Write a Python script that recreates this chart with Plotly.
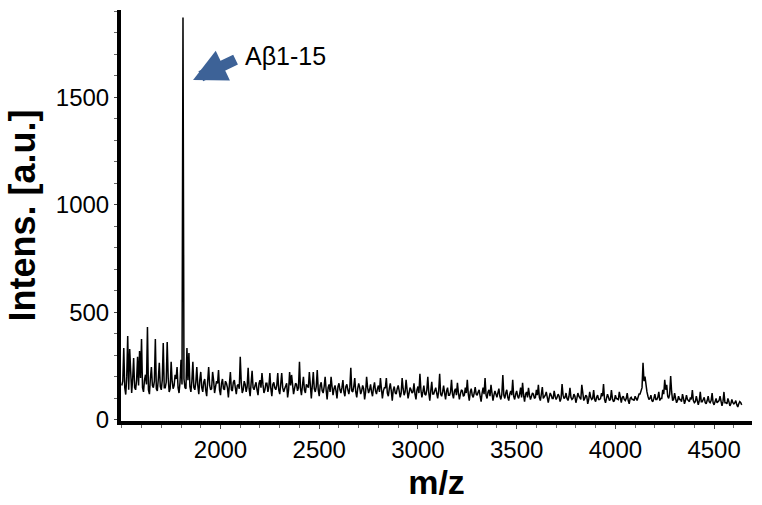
import numpy as np
import plotly.graph_objects as go

# m/z grid: readings every 5 units (peaks/troughs on the 10s, band on the 5s)
mz_start = 1500
mz_step = 5

# intensities at 1500, 1510, ... (10 values per 100 m/z)
intens_even = [
    160, 334, 118, 390, 330, 125, 288, 140, 293, 320,   # 1500
    376, 130, 210, 432, 120, 246, 150, 376, 135, 265,   # 1600
    140, 357, 150, 362, 130, 270, 145, 210, 246, 125,   # 1700
    279, 1870, 150, 334, 311, 130, 270, 140, 246, 120,  # 1800
    223, 130, 190, 110, 246, 140, 223, 125, 180, 232,   # 1900
    115, 190, 140, 170, 105, 223, 135, 185, 120, 165,   # 2000
    293, 125, 180, 130, 242, 110, 228, 140, 175, 115,   # 2100
    185, 218, 125, 170, 130, 218, 110, 175, 140, 218,   # 2200
    120, 218, 130, 165, 105, 223, 209, 120, 170, 135,   # 2300
    270, 115, 200, 125, 160, 223, 100, 223, 130, 232,   # 2400
    110, 175, 125, 200, 95, 165, 200, 115, 160, 100,    # 2500
    170, 125, 185, 110, 165, 120, 242, 130, 195, 105,   # 2600
    170, 120, 160, 95, 200, 125, 165, 110, 175, 120,    # 2700
    160, 195, 100, 150, 195, 110, 170, 90, 155, 120,    # 2800
    160, 105, 195, 115, 186, 100, 150, 125, 170, 95,    # 2900
    155, 214, 105, 160, 115, 200, 90, 177, 120, 150,    # 3000
    100, 214, 110, 160, 95, 150, 115, 186, 100, 145,    # 3100
    172, 95, 140, 110, 150, 186, 90, 145, 105, 153,     # 3200
    115, 140, 85, 150, 195, 100, 140, 163, 90, 135,     # 3300
    105, 145, 95, 209, 100, 140, 90, 135, 186, 95,      # 3400
    135, 100, 150, 172, 85, 130, 149, 95, 125, 100,     # 3500
    140, 163, 90, 153, 105, 130, 80, 125, 100, 135,     # 3600
    95, 120, 85, 167, 100, 125, 90, 149, 95, 120,       # 3700
    80, 125, 100, 163, 90, 115, 75, 130, 95, 139,       # 3800
    85, 115, 95, 125, 167, 80, 120, 90, 139, 85,        # 3900
    115, 95, 130, 80, 110, 90, 125, 75, 105, 95,        # 4000
    110, 90, 120, 139, 266, 201, 130, 95, 115, 85,      # 4100
    120, 95, 130, 100, 140, 186, 163, 100, 204, 90,     # 4200
    125, 80, 110, 95, 120, 75, 115, 90, 105, 139,       # 4300
    80, 110, 70, 130, 85, 105, 75, 110, 80, 125,        # 4400
    70, 100, 85, 110, 65, 130, 80, 100, 65, 95,         # 4500
    75, 90, 60, 85, 70,                                 # 4600
]

# intensities at 1505, 1515, ... (the dense noise band)
intens_odd = [
    180, 150, 200, 140, 175, 190, 150, 185, 160, 195,   # 1500
    150, 185, 165, 140, 195, 160, 180, 145, 190, 155,   # 1600
    185, 150, 175, 195, 145, 180, 160, 190, 150, 175,   # 1700
    165, 190, 145, 185, 155, 180, 150, 175, 160, 185,   # 1800
    150, 175, 140, 180, 160, 145, 185, 155, 170, 140,   # 1900
    170, 145, 180, 150, 165, 140, 175, 150, 160, 145,   # 2000
    175, 140, 165, 155, 145, 170, 150, 160, 140, 170,   # 2100
    150, 165, 140, 170, 155, 145, 165, 150, 160, 140,   # 2200
    165, 150, 145, 170, 140, 160, 150, 145, 165, 150,   # 2300
    145, 160, 140, 165, 150, 135, 160, 145, 155, 140,   # 2400
    160, 135, 155, 140, 150, 130, 155, 145, 135, 155,   # 2500
    140, 150, 130, 155, 140, 150, 135, 155, 130, 145,   # 2600
    150, 135, 145, 130, 150, 140, 130, 150, 135, 145,   # 2700
    130, 145, 135, 150, 125, 145, 135, 140, 125, 145,   # 2800
    135, 125, 145, 130, 140, 125, 140, 130, 120, 140,   # 2900
    125, 140, 130, 120, 140, 125, 135, 120, 135, 125,   # 3000
    135, 120, 130, 125, 135, 115, 130, 120, 135, 115,   # 3100
    125, 120, 135, 115, 125, 120, 130, 115, 125, 120,   # 3200
    130, 110, 125, 120, 115, 130, 110, 125, 115, 120,   # 3300
    125, 110, 120, 115, 125, 105, 120, 115, 110, 120,   # 3400
    110, 120, 105, 115, 120, 105, 115, 110, 120, 105,   # 3500
    115, 105, 120, 100, 115, 110, 105, 115, 100, 110,   # 3600
    105, 110, 100, 115, 105, 100, 110, 105, 100, 110,   # 3700
    100, 110, 95, 105, 100, 110, 95, 105, 100, 95,      # 3800
    105, 95, 100, 110, 95, 100, 105, 95, 100, 90,       # 3900
    100, 95, 90, 105, 95, 100, 90, 100, 95, 90,         # 4000
    100, 105, 120, 150, 180, 150, 110, 100, 90, 100,    # 4100
    95, 105, 90, 100, 120, 140, 110, 120, 130, 95,      # 4200
    100, 90, 95, 85, 100, 90, 95, 85, 95, 90,           # 4300
    85, 95, 90, 85, 95, 80, 90, 85, 90, 80,             # 4400
    85, 80, 90, 75, 85, 80, 75, 85, 75, 80,             # 4500
    80, 70, 75, 80,                                     # 4600
]

intens = []
for i, v in enumerate(intens_even):
    intens.append(v)
    if i < len(intens_odd):
        intens.append(intens_odd[i])
mz = mz_start + mz_step * np.arange(len(intens))

x_ticks = [2000, 2500, 3000, 3500, 4000, 4500]
y_ticks = [0, 500, 1000, 1500]

FONT = "Arial, Liberation Sans, sans-serif"
ARROW_BLUE = "#3D6297"

fig = go.Figure(go.Scatter(
    x=mz,
    y=intens,
    mode="lines",
    line=dict(color="#000000", width=1.5),
    showlegend=False,
))

# label for the main peak + block arrow
fig.add_annotation(
    x=2330, y=1692, text="Aβ1-15", showarrow=False,
    font=dict(family=FONT, size=25, color="#000000"),
)
fig.add_annotation(
    x=1861, y=1580, text="", showarrow=True,
    ax=44, ay=-21,
    arrowhead=2, arrowsize=0.6, arrowwidth=11, arrowcolor=ARROW_BLUE,
)

fig.update_layout(
    width=762, height=505,
    margin=dict(l=121, r=10, t=10, b=84),
    paper_bgcolor="#ffffff",
    plot_bgcolor="#ffffff",
    font=dict(family=FONT, color="#000000"),
)
fig.update_xaxes(
    range=[1496, 4692], automargin=False,
    tickvals=x_ticks,
    ticks="outside", ticklen=4, tickwidth=1, tickcolor="#444444",
    minor=dict(dtick=100, tick0=0, ticks="outside", ticklen=3, tickcolor="#666666"),
    showline=True, linecolor="#000000", linewidth=4,
    showgrid=False, zeroline=False,
    tickfont=dict(size=24),
    title=dict(text="<b>m/z</b>", font=dict(size=34), standoff=6),
)
fig.update_yaxes(
    range=[-5, 1905], automargin=False,
    tickvals=y_ticks,
    ticks="outside", ticklen=3, tickwidth=1, tickcolor="#444444",
    minor=dict(dtick=100, tick0=0, ticks="outside", ticklen=3, tickcolor="#666666"),
    showline=True, linecolor="#000000", linewidth=4,
    showgrid=False, zeroline=False,
    tickfont=dict(size=24),
    title=dict(text="<b>Intens. [a.u.]</b>", font=dict(size=36), standoff=10),
)

# drop the browser's default body margin so the figure sits at the window corner
fig.write_html(
    "out.html",
    config={"displayModeBar": False},
    post_script="document.body.style.margin='0';",
)
